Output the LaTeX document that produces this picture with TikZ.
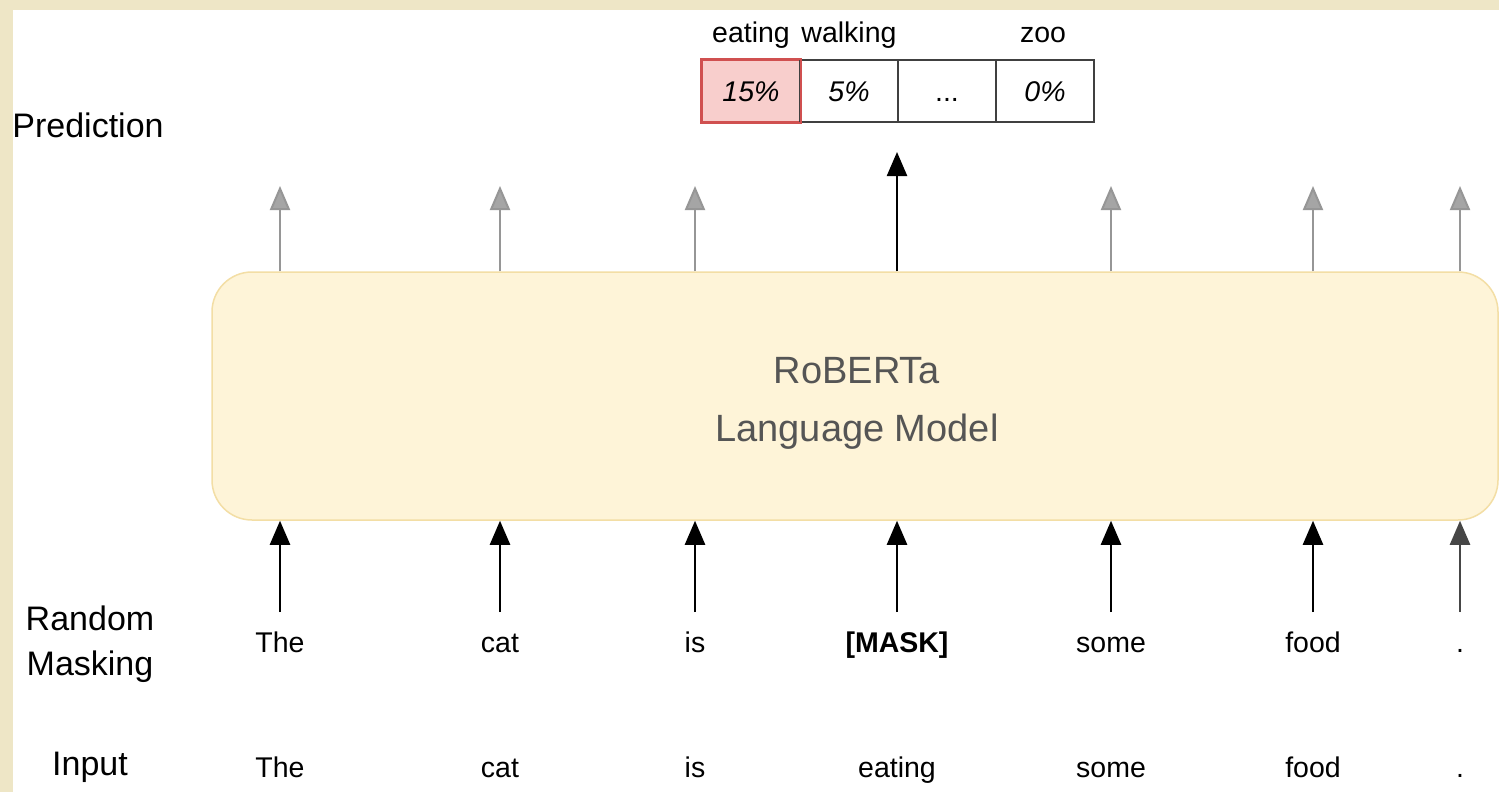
\documentclass[tikz,border=0pt]{standalone}
\usepackage{fontspec}
\setmainfont{Liberation Sans}
\usetikzlibrary{arrows.meta}
\definecolor{parch}{RGB}{238,230,198}
\definecolor{boxfill}{RGB}{254,244,216}
\definecolor{boxline}{RGB}{243,222,165}
\definecolor{pinkfill}{RGB}{248,206,204}
\definecolor{redline}{RGB}{208,80,80}
\definecolor{grayarrow}{RGB}{150,150,150}
\definecolor{graytip}{RGB}{165,165,165}
\definecolor{titlegray}{RGB}{85,85,85}
\definecolor{darkarrow}{RGB}{70,70,70}
\tikzset{
  word/.style={font=\fontsize{28.5}{34}\selectfont, inner sep=0pt, anchor=base},
  rowlabel/.style={font=\fontsize{34}{45}\selectfont, align=center, inner sep=0pt},
  model/.style={draw=boxline, line width=1.5pt, fill=boxfill, rounded corners=40pt, minimum width=1286pt, minimum height=248pt, inner sep=0pt},
  cell/.style={draw=black!75, line width=2pt, fill=white, minimum width=98pt, minimum height=62pt, inner sep=0pt, text height=20pt, text depth=0pt, font=\fontsize{28.5}{34}\selectfont\itshape},
  hotcell/.style={cell, draw=redline, fill=pinkfill},
  grayarr/.style={draw=grayarrow, line width=2pt, -{Triangle[width=20pt,length=24pt,fill=graytip]}},
  blackarr/.style={draw=black, line width=2.4pt, -{Triangle[width=20pt,length=24pt]}},
  darkarr/.style={blackarr, draw=darkarrow, fill=darkarrow},
}
\begin{document}
\begin{tikzpicture}[x=1pt,y=-1pt]
\fill[parch] (0,0) rectangle (1499,792);
\fill[white] (13,10) rectangle (1499,792);
\useasboundingbox (0,0) rectangle (1499,792);

% model box
\node[model] (box) at (855,396) {};
\node[font=\fontsize{38}{58}\selectfont, text=titlegray, align=center] (title) at (857,403) {RoBERTa\\Language Model};

% row labels
\node[rowlabel] (lpred) at (88,125) {Prediction};
\node[rowlabel] (lmask) at (90,644) {Random\\Masking};
\node[rowlabel] (linput) at (90,767) {Input};

% masked row and input row
\foreach \i/\x/\w/\v in {1/280/The/The, 2/500/cat/cat, 3/695/is/is, 4/897/{\bfseries [MASK]}/eating, 5/1111/some/some, 6/1313/food/food, 7/1460/./.}{
  \node[word] (m\i) at (\x,652) {\w};
  \node[word] (n\i) at (\x,777) {\v};
  \coordinate (s\i) at (\x,612);
  \coordinate (t\i) at (\x,186);
}
\foreach \i in {1,...,6}{
  \draw[blackarr] (s\i) -- (s\i |- box.south);
}
\draw[darkarr] (s7) -- (s7 |- box.south);
% top arrows
\foreach \i in {1,2,3,5,6,7}{
  \draw[grayarr] (t\i |- box.north) -- (t\i);
}
\coordinate (t4) at (897,152);
\draw[blackarr] (t4 |- box.north) -- (t4);

% prediction table
\node[hotcell] (c1) at (751,91) {15\%};
\node[cell] (c2) at (849,91) {5\%};
\node[cell] (c3) at (947,91) {\upshape ...};
\node[cell] (c4) at (1045,91) {0\%};
\draw[redline, line width=2pt] (c1.north west) rectangle (c1.south east);
\node[word] (p1) at (751,43) {eating};
\node[word] (p2) at (849,43) {walking};
\node[word] (p4) at (1043,43) {zoo};
\end{tikzpicture}
\end{document}
